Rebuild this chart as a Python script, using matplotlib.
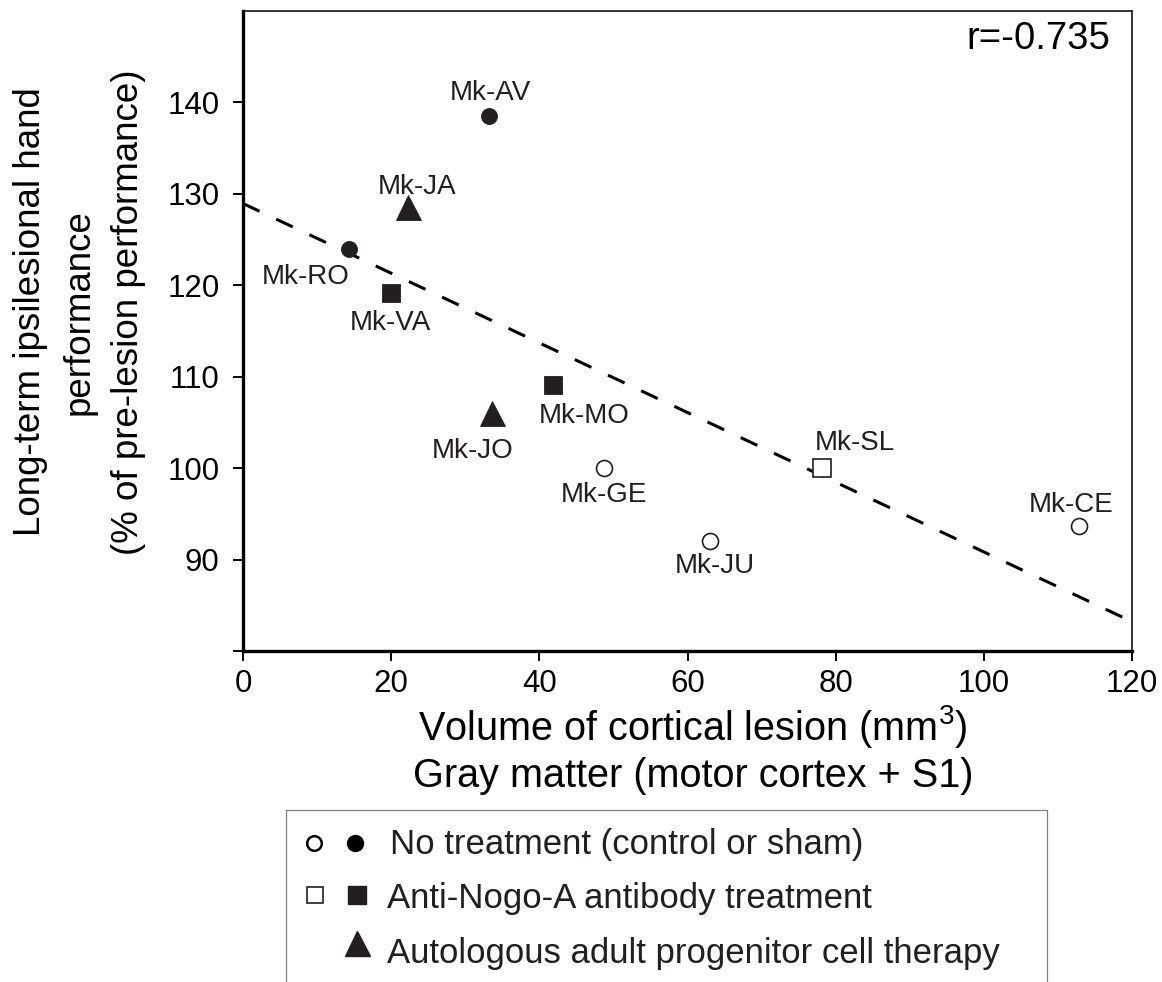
import matplotlib
matplotlib.use('Agg')
import matplotlib.pyplot as plt
import numpy as np

plt.rcParams['font.family'] = ['Liberation Sans', 'DejaVu Sans']
plt.rcParams['mathtext.fontset'] = 'custom'
plt.rcParams['mathtext.rm'] = 'Liberation Sans'
plt.rcParams['mathtext.default'] = 'regular'

# --- data: one entry per monkey ---
monkeys = ['Mk-AV', 'Mk-JA', 'Mk-RO', 'Mk-VA', 'Mk-MO',
           'Mk-JO', 'Mk-GE', 'Mk-JU', 'Mk-SL', 'Mk-CE']
lesion_volume = [33.2, 22.3, 14.3, 20.0, 41.9, 33.6, 48.7, 63.0, 78.2, 112.8]
performance = [138.5, 128.6, 124.0, 119.2, 109.1, 106.0, 100.0, 92.0, 100.0, 93.7]
treatment = ['none', 'cells', 'none', 'antibody', 'antibody',
             'cells', 'none', 'none', 'antibody', 'none']
filled = [True, True, True, True, True, True, False, False, False, False]
r_value = -0.735

x_ticks = [0, 20, 40, 60, 80, 100, 120]
y_ticks = [80, 90, 100, 110, 120, 130, 140]

legend_labels = ['No treatment (control or sham)',
                 'Anti-Nogo-A antibody treatment',
                 'Autologous adult progenitor cell therapy']

# label offsets (pixels) relative to each point: dx, dy of text baseline centre
label_offsets = [(1, 16), (9, 13), (-43, -35), (-1, -37), (31, -38),
                 (-19, -45), (0, -34), (5, -32), (32, 18), (-8, 14)]

DARK = '#231f20'
marker_style = {'none': ('o', 11.5), 'antibody': ('s', 12.5), 'cells': ('^', 18)}

W, H = 1162, 982
fig = plt.figure(figsize=(W / 100, H / 100), dpi=100)
ax = fig.add_axes([243 / W, 1 - 651 / H, (1132 - 243) / W, (651 - 11) / H])

# regression line across the full x range
slope, intercept = np.polyfit(lesion_volume, performance, 1)
xl = np.array([0, 120])
ax.plot(xl, slope * xl + intercept, color='black', lw=2.2,
        dashes=(6, 6), zorder=1)

for name, x, y, t, f, off in zip(monkeys, lesion_volume, performance,
                                 treatment, filled, label_offsets):
    m, ms = marker_style[t]
    ax.plot(x, y, marker=m, ms=ms, ls='none',
            mfc=DARK if f else 'white', mec=DARK,
            mew=0.6 if f else 1.2, zorder=3)
    ax.annotate(name, (x, y), xytext=off, textcoords='offset pixels',
                ha='center', va='baseline', fontsize=20, color=DARK)

ax.set_xlim(0, 120)
ax.set_ylim(80, 150)
ax.set_xticks(x_ticks)
ax.set_yticks(y_ticks)
ax.set_yticklabels([''] + [str(v) for v in y_ticks[1:]])
ax.tick_params(axis='both', labelsize=22.5, width=1.4, length=7, direction='out')
ax.tick_params(axis='y', pad=10)
ax.tick_params(axis='x', pad=6)
for side in ['left', 'bottom']:
    ax.spines[side].set_linewidth(2.4)
for side in ['top', 'right']:
    ax.spines[side].set_linewidth(1.1)

ax.text(0.975, 0.985, f'r={r_value}', transform=ax.transAxes,
        ha='right', va='top', fontsize=27.5)

# axis labels
fig.text(693 / W, 1 - 740 / H, 'Volume of cortical lesion (mm$^{3}$)',
         ha='center', va='baseline', fontsize=28.5)
fig.text(693 / W, 1 - 787 / H, 'Gray matter (motor cortex + S1)',
         ha='center', va='baseline', fontsize=28.5)
ylab_lines = ['Long-term ipsilesional hand', 'performance',
              '(% of pre-lesion performance)']
for i, line in enumerate(ylab_lines):
    fig.text((40 + 49 * i) / W, 1 - 312 / H, line, rotation=90,
             rotation_mode='anchor', ha='center', va='baseline', fontsize=26.5)

# legend box drawn in pixel space, open at the bottom edge
lax = fig.add_axes([0, 0, 1, 1], zorder=-1)
lax.set_xlim(0, W)
lax.set_ylim(H, 0)
lax.axis('off')
lax.plot([286, 286, 1047, 1047], [H + 10, 810, 810, H + 10],
         color='#808080', lw=0.9)

rows_y = [843, 895, 943]
text_base = [854, 908, 963]
text_x = [390, 387, 387]
lax.plot(314, rows_y[0], 'o', ms=10.5, mfc='white', mec='black', mew=1.8)
lax.plot(355, rows_y[0], 'o', ms=11.5, mfc='black', mec='black')
lax.plot(315, rows_y[1], 's', ms=12, mfc='white', mec=DARK, mew=1.2)
lax.plot(357, rows_y[1], 's', ms=12.5, mfc=DARK, mec=DARK)
lax.plot(357, rows_y[2], '^', ms=18, mfc=DARK, mec=DARK)
for lab, xx, yy in zip(legend_labels, text_x, text_base):
    lax.text(xx, yy, lab, ha='left', va='baseline',
             fontsize=25, color=DARK)

fig.savefig('out.png', dpi=100)
